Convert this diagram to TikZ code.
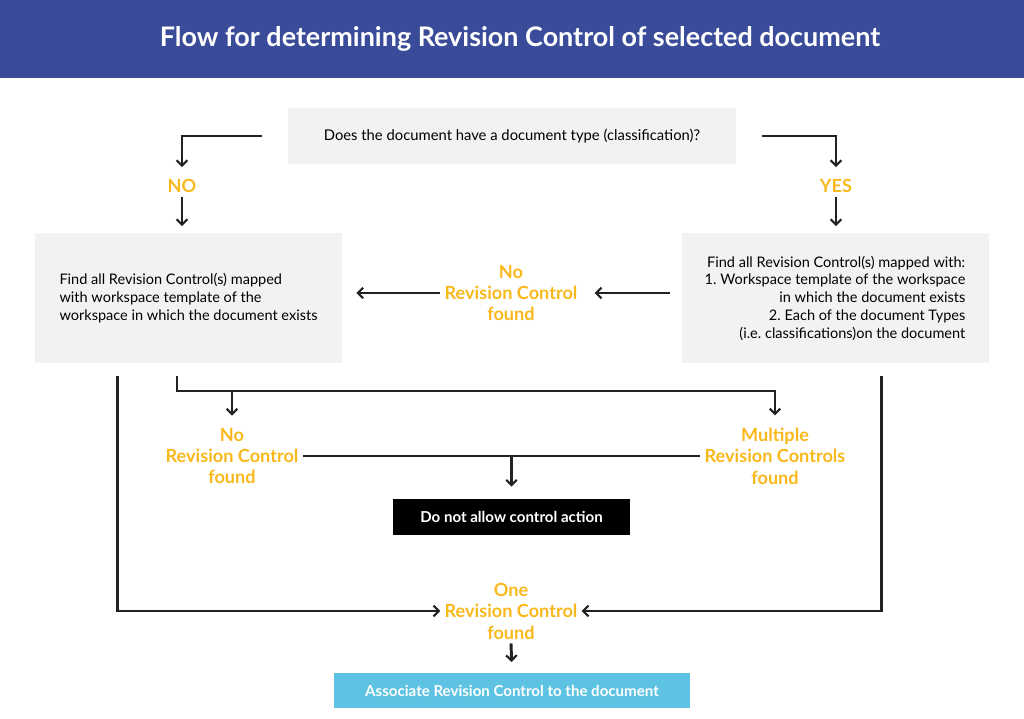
\documentclass[tikz,border=0pt]{standalone}
\usepackage{fontspec}
\setmainfont{Lato}
\usetikzlibrary{arrows.meta,positioning,calc}
\frenchspacing
\definecolor{revblue}{HTML}{3A4B99}
\definecolor{revgrey}{HTML}{F2F2F2}
\definecolor{revorange}{HTML}{F9B81B}
\definecolor{revcyan}{HTML}{5EC3E2}
\definecolor{revline}{HTML}{222222}
\tikzset{
  question/.style={fill=revgrey, inner sep=0pt, minimum width=336pt, minimum height=42pt, font=\fontsize{11.1}{13}\selectfont},
  findbox/.style={fill=revgrey, inner sep=0pt, minimum width=230.25pt, minimum height=97.5pt, font=\fontsize{10.9}{13.3}\selectfont},
  outcome/.style={text=revorange, font=\fontsize{13.6}{16.1}\selectfont\bfseries, align=center, inner sep=3pt},
  action/.style={inner sep=0pt, text=white, font=\fontsize{11.3}{13}\selectfont\bfseries},
  line/.style={line width=2.2pt, draw=revline},
  flow/.style={line, -{Straight Barb[length=4pt, width=8pt, line width=1.6pt]}}
}
\begin{document}
\begin{tikzpicture}[x=0.75pt, y=-0.75pt]
  \useasboundingbox (0,0) rectangle (1024,718);
  % title bar
  \fill[revblue] (0,0) rectangle (1024,78);
  \node[text=white, font=\fontsize{20.2}{24}\selectfont\bfseries] (title) at (520,39) {Flow for determining Revision Control of selected document};

  \node[question] (q) at (512,136) {Does the document have a document type (classification)?};
  \node[outcome] (no) at (182,186) {NO};
  \node[outcome] (yes) at (836,186) {YES};
  \node[findbox, align=left] (nofind) at (188.5,298) {Find all Revision Control(s) mapped\\with workspace template of the\\workspace in which the document exists};
  \node[findbox, align=right] (typefind) at (835,298) {Find all Revision Control(s) mapped with:\\1. Workspace template of the workspace\\in which the document exists\\2. Each of the document Types\\(i.e. classifications)on the document};
  \node[outcome] (nomid) at (511,293) {No\\Revision Control\\found};
  \node[outcome] (nolow) at (232,456) {No\\Revision Control\\found};
  \node[outcome] (multi) at (775,456) {Multiple\\Revision Controls\\found};
  \node[action, fill=black, minimum width=177.75pt, minimum height=27pt] (deny) at (511.5,517) {Do not allow control action};
  \node[outcome] (one) at (511,611) {One\\Revision Control\\found};
  \node[action, fill=revcyan, minimum width=267pt, minimum height=26.25pt] (assoc) at (512,690.5) {Associate Revision Control to the document};

  % classification check
  \draw[flow, shorten >=6pt] ($(q.west)+(-26,0)$) -| (no.north);
  \draw[flow, shorten >=6pt] ($(q.east)+(26,0)$) -| (yes.north);
  \draw[flow, shorten >=5pt] (no.south) -- (no.south |- nofind.north);
  \draw[flow, shorten >=5pt] (yes.south) -- (yes.south |- typefind.north);
  % nothing mapped to the types
  \draw[flow] ($(typefind.west |- nomid)+(-11,0)$) -- ($(nomid.east)+(13,0)$);
  \draw[flow] (nomid.west) -- ($(nofind.east |- nomid)+(14,0)$);
  % workspace template result
  \coordinate (fork) at (177,391);
  \draw[flow, shorten >=6pt] ($(nofind.south)+(-11.5,13)$) -- (fork) -| (multi.north);
  \draw[flow, shorten >=6pt] (nolow.north |- fork) -- (nolow.north);
  \draw[line] (nolow.east) -- (multi.west);
  \draw[flow, shorten >=9pt] (deny.north |- nolow.east) -- (deny.north);
  % single match
  \draw[flow] ($(nofind.south west)+(83,13)$) |- (one.west);
  \draw[flow] ($(typefind.south east)+(-107,13)$) |- (one.east);
  \draw[flow, shorten >=8pt] (one.south) -- (assoc.north);
\end{tikzpicture}
\end{document}
